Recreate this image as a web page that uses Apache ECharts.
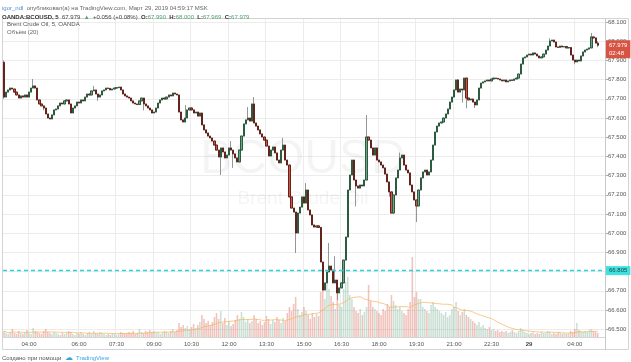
<!DOCTYPE html>
<html><head><meta charset="utf-8">
<script src="https://cdn.jsdelivr.net/npm/echarts@6/dist/echarts.min.js"></script>
<style>html,body{margin:0;padding:0;background:#fff}#c{width:631px;height:362px}</style>
</head><body><div id="c"></div>
<script>
// ---------------- data ----------------
const firstOpen = 67.890;
const closes = [
67.709,67.735,67.746,67.756,67.751,67.735,67.720,67.704,67.715,67.709,
67.720,67.709,67.735,67.756,67.767,67.756,67.694,67.673,67.663,67.652,
67.621,67.600,67.595,67.616,67.642,67.647,67.663,67.678,67.673,67.689,
67.694,67.673,67.626,67.652,67.663,67.683,67.678,67.694,67.689,67.709,
67.725,67.720,67.741,67.746,67.725,67.709,67.720,67.741,67.746,67.756,
67.754,67.746,67.751,67.756,67.758,67.761,67.746,67.725,67.715,67.709,
67.704,67.689,67.678,67.673,67.670,67.689,67.704,67.673,67.663,67.652,
67.642,67.626,67.631,67.652,67.678,67.694,67.704,67.699,67.709,67.720,
67.715,67.730,67.725,67.720,67.631,67.590,67.579,67.600,67.642,67.652,
67.642,67.626,67.631,67.610,67.626,67.564,67.538,67.522,67.506,67.496,
67.480,67.459,67.433,67.397,67.444,67.423,67.392,67.407,67.444,67.433,
67.413,67.392,67.371,67.433,67.506,67.569,67.590,67.600,67.584,67.673,
67.574,67.558,67.538,67.517,67.501,67.485,67.454,67.402,67.433,67.449,
67.418,67.381,67.366,67.433,67.459,67.381,67.355,67.189,67.131,67.110,
67.001,67.105,67.136,67.189,67.157,67.225,67.121,67.095,67.043,67.032,
67.038,67.030,66.850,66.704,66.741,66.798,66.829,66.808,66.741,66.756,
66.689,66.715,66.741,66.860,66.980,67.225,67.303,67.381,67.277,67.246,
67.235,67.251,67.246,67.277,67.501,67.485,67.444,67.407,67.444,67.381,
67.371,67.355,67.340,67.308,67.267,67.215,67.105,67.199,67.288,67.329,
67.392,67.407,67.355,67.329,67.314,67.251,67.215,67.173,67.142,67.225,
67.288,67.319,67.329,67.303,67.319,67.381,67.459,67.527,67.558,67.574,
67.579,67.600,67.621,67.647,67.683,67.709,67.746,67.798,67.735,67.751,
67.746,67.808,67.704,67.694,67.699,67.683,67.668,67.694,67.756,67.782,
67.788,67.793,67.798,67.793,67.803,67.808,67.806,67.803,67.798,67.793,
67.798,67.788,67.793,67.798,67.796,67.803,67.808,67.829,67.881,67.913,
67.918,67.928,67.933,67.928,67.939,67.933,67.923,67.913,67.918,67.933,
67.954,67.975,68.001,68.006,67.996,67.970,67.968,67.975,67.970,67.972,
67.965,67.967,67.928,67.902,67.892,67.902,67.897,67.923,67.944,67.954,
67.959,67.965,68.022,68.017,67.990,67.979
];
const wickHighs = {0:67.900,14:67.803,43:67.767,87:67.668,90:67.657,109:67.480,117:67.657,120:67.709,
  134:67.496,145:67.261,156:66.949,159:66.880,174:67.616,190:67.420,218:67.803,262:68.015,282:68.043,285:68.000};
const wickLows = {0:67.700,19:67.640,45:67.690,67:67.640,104:67.303,110:67.340,140:66.897,160:66.652,
  169:67.140,185:67.190,198:67.058,220:67.680,222:67.650,226:67.652,274:67.880,285:67.969};
const volumes = [
6,4,3,5,8,4,3,6,4,3, 5,7,4,3,9,6,5,4,3,6, 8,5,4,3,5,4,3,2,4,3, 4,6,5,3,2,4,3,5,3,2,
4,5,3,6,4,3,5,4,3,2, 3,2,4,3,2,3,5,4,3,4, 5,4,6,3,4,8,5,4,6,5, 7,5,6,4,5,3,4,6,5,4,
6,8,5,7,14,10,12,9,11,8, 10,13,9,12,15,22,18,14,16,12, 15,20,24,18,26,14,19,12,16,11,
13,17,22,18,25,20,15,18,14,16, 22,18,14,16,12,15,21,18,13,17, 15,20,17,14,19,16,24,30,26,33,
40,28,22,25,30,26,22,18,24,20, 23,21,45,52,38,62,48,41,35,28, 45,32,30,48,55,60,42,38,30,26,
24,28,22,25,30,52,36,30,28,26, 24,22,28,26,33,30,42,36,32,28, 30,26,24,22,28,35,80,40,45,38,
38,30,28,26,24,32,35,30,28,26, 24,22,25,20,22,28,30,35,26,22, 25,28,22,20,18,16,14,12,15,10,
12,9,8,10,7,8,6,7,5,6, 5,6,4,5,7,5,4,6,9,7, 5,4,3,4,5,3,4,3,5,4, 4,6,5,3,4,3,5,4,3,4,
3,4,6,5,8,14,7,6,5,6, 5,7,8,6,5,4
];
const sessions = [['28', 3*60, 23*60+55], ['29', 2*60+10, 4*60+55]];
const tickLabels = ['28 04:00','28 06:00','28 07:30','28 09:00','28 10:30','28 12:00','28 13:30',
  '28 15:00','28 16:30','28 18:00','28 19:30','28 21:00','28 22:30','29 02:10','29 04:00'];
const dayStartLabel = '29 02:10';
const lastPrice = 67.979, lastCountdown = '02:48', alertPrice = 66.805;

// ---------------- build ----------------
function pad(n){return (n<10?'0':'')+n;}
const categories = [];
sessions.forEach(([d, a, b]) => { for (let t = a; t <= b; t += 5) categories.push(d + ' ' + pad(Math.floor(t/60)) + ':' + pad(t%60)); });
for (let k = 1; k <= 3; k++) categories.push(' '.repeat(k));

const ohlc = closes.map((c, i) => {
  const o = i === 0 ? firstOpen : closes[i-1];
  const h = wickHighs[i] !== undefined ? wickHighs[i] : Math.max(o, c);
  const l = wickLows[i] !== undefined ? wickLows[i] : Math.min(o, c);
  return [o, c, l, h];
});
const bodies = ohlc.map(([o, c]) => [o, c, Math.min(o, c), Math.max(o, c)]);
const volData = volumes.map((v, i) => ({
  value: v,
  itemStyle: { color: ohlc[i][1] >= ohlc[i][0] ? 'rgba(107,165,131,0.35)' : 'rgba(215,84,66,0.35)' }
}));
const volMA = volumes.map((v, i) => {
  const s = volumes.slice(Math.max(0, i-19), i+1);
  return +(s.reduce((a, b) => a + b, 0) / s.length).toFixed(2);
});
const tickSet = new Set(tickLabels);
const showTick = (idx, val) => tickSet.has(val);

const FONT = '"Liberation Sans", Arial, sans-serif';
const chart = echarts.init(document.getElementById('c'), null, {renderer: 'canvas'});
chart.setOption({
  animation: false,
  backgroundColor: '#fff',
  textStyle: { fontFamily: FONT },
  grid: [
    { left: 3, right: 26, top: 2.8, bottom: 13.6 },
    { left: 3, right: 26, top: 237, bottom: 25 }
  ],
  xAxis: [
    { type: 'category', gridIndex: 0, data: categories, boundaryGap: true,
      axisLine: { show: false }, axisTick: { show: false }, axisLabel: { show: false },
      splitLine: { show: true, interval: showTick, lineStyle: { color: '#ececec', width: 1 } } },
    { type: 'category', gridIndex: 1, data: categories, boundaryGap: true, z: 6,
      axisLine: { show: false }, axisTick: { show: false }, splitLine: { show: false },
      axisLabel: { show: true, interval: showTick, margin: 4, fontSize: 6, color: '#555', fontFamily: FONT,
        formatter: v => v === dayStartLabel ? '{b|29}' : v.slice(3),
        rich: { b: { fontWeight: 'bold', fontSize: 6, color: '#444' } } } }
  ],
  yAxis: [
    { type: 'value', gridIndex: 0, position: 'right', min: 66.4, max: 68.2, interval: 0.1,
      axisLine: { show: true, lineStyle: { color: '#c8c8c8' } },
      axisTick: { show: true, length: 3, lineStyle: { color: '#aaa' } },
      axisLabel: { fontSize: 6, color: '#555', margin: 3, showMinLabel: false, showMaxLabel: false,
        formatter: v => v.toFixed(3) },
      splitLine: { show: true, lineStyle: { color: '#ececec' } } },
    { type: 'value', gridIndex: 1, min: 0, max: 100, show: false }
  ],
  graphic: [
    { type: 'text', z: 1, silent: true,
      style: { text: 'BCOUSD', x: 303, y: 160, textAlign: 'center', textVerticalAlign: 'middle',
        font: '48px ' + FONT, fill: 'rgba(0,0,0,0.045)' } },
    { type: 'text', z: 1, silent: true,
      style: { text: 'Brent Crude Oil', x: 303, y: 199, textAlign: 'center', textVerticalAlign: 'middle',
        font: '19px ' + FONT, fill: 'rgba(0,0,0,0.045)' } },
    { type: 'rect', z: 3, silent: true, shape: { x: 0, y: 0, width: 631, height: 18 }, style: { fill: '#fff' } },
    { type: 'rect', z: 3, silent: true, shape: { x: 0, y: 337.5, width: 631, height: 25 }, style: { fill: '#fff' } },
    { type: 'rect', z: 4, silent: true, shape: { x: 2.5, y: 18.5, width: 626, height: 331 },
      style: { fill: 'none', stroke: '#d4d4d4', lineWidth: 1 } },
    { type: 'line', z: 4, silent: true, shape: { x1: 2.5, y1: 337.5, x2: 605.5, y2: 337.5 }, style: { stroke: '#d4d4d4', lineWidth: 1 } },
    { type: 'line', z: 4, silent: true, shape: { x1: 605.5, y1: 18.5, x2: 605.5, y2: 349.5 }, style: { stroke: '#c8c8c8', lineWidth: 1 } },
    { type: 'text', z: 5, silent: true,
      style: { x: 2, y: 2, text: '{u|igor_ndl} {g|опубликовал(а) на TradingView.com, Март 29, 2019 04:59:17 MSK}',
        rich: { u: { fill: '#4e8fd1', font: '6px ' + FONT }, g: { fill: '#666', font: '6px ' + FONT } } } },
    { type: 'text', z: 5, silent: true,
      style: { x: 2, y: 11, text: '{k|OANDA:BCOUSD, 5} {d|67.979} {g|▲} {d|+0.056 (+0.08%)} {k|O:}{g|67.990} {k|H:}{g|68.000} {k|L:}{g|67.969} {k|C:}{g|67.979}',
        rich: { k: { fill: '#333', font: 'bold 6px ' + FONT }, d: { fill: '#444', font: '6px ' + FONT }, g: { fill: '#4fa36e', font: '6px ' + FONT } } } },
    { type: 'text', z: 5, silent: true,
      style: { x: 7, y: 21, text: 'Brent Crude Oil, 5, OANDA', fill: '#555', font: '6px ' + FONT } },
    { type: 'text', z: 5, silent: true,
      style: { x: 7, y: 29, text: 'Объём (20)', fill: '#666', font: '6px ' + FONT } },
    { type: 'text', z: 5, silent: true,
      style: { x: 2, y: 352, text: '{g|Создано при помощи} {i|☁} {b|TradingView}',
        rich: { g: { fill: '#555', font: '6px ' + FONT }, i: { fill: '#3aa3e3', font: '8px ' + FONT }, b: { fill: '#3aa3e3', font: '6px ' + FONT } } } }
  ],
  series: [
    { name: 'wicks', type: 'candlestick', xAxisIndex: 0, yAxisIndex: 0, data: ohlc, barWidth: '80%', z: 2,
      itemStyle: { color: '#8a8a8c', color0: '#8a8a8c', borderColor: '#8a8a8c', borderColor0: '#8a8a8c', borderWidth: 0.9 } },
    { name: 'bodies', type: 'candlestick', xAxisIndex: 0, yAxisIndex: 0, data: bodies, barWidth: '80%', z: 3,
      itemStyle: { color: '#6ba583', color0: '#d75442', borderColor: '#225437', borderColor0: '#5b1a13', borderWidth: 0.9 } },
    { name: 'levels', type: 'line', xAxisIndex: 0, yAxisIndex: 0, data: [], z: 7,
      markLine: { silent: true, symbol: ['none', 'none'], animation: false, precision: 3,
        lineStyle: { color: '#2fd0d6', type: [4, 3], width: 1.4, opacity: 1 },
        data: [
          { yAxis: alertPrice, lineStyle: { color: '#2fd0d6', type: [4, 3], width: 1.4 },
            label: { show: true, position: 'end', distance: 1, formatter: alertPrice.toFixed(3), fontSize: 6,
              color: '#244', backgroundColor: '#3fe0e0', padding: [2, 3, 1, 3], fontFamily: FONT } },
          { yAxis: lastPrice, lineStyle: { color: 'rgba(0,0,0,0)', width: 0.01, type: 'solid' },
            label: { show: true, position: 'end', distance: 1, formatter: lastPrice.toFixed(3) + '\n' + lastCountdown,
              fontSize: 6, lineHeight: 8, color: '#fff', backgroundColor: '#d75442', padding: [1, 3, 1, 3],
              verticalAlign: 'top', offset: [0, -5], fontFamily: FONT } }
        ] } },
    { name: 'vol', type: 'bar', xAxisIndex: 1, yAxisIndex: 1, data: volData, barWidth: '75%', z: 1 },
    { name: 'volma', type: 'line', xAxisIndex: 1, yAxisIndex: 1, data: volMA, showSymbol: false, z: 1,
      lineStyle: { color: 'rgba(247,178,90,0.7)', width: 1 } }
  ]
});
</script></body></html>
